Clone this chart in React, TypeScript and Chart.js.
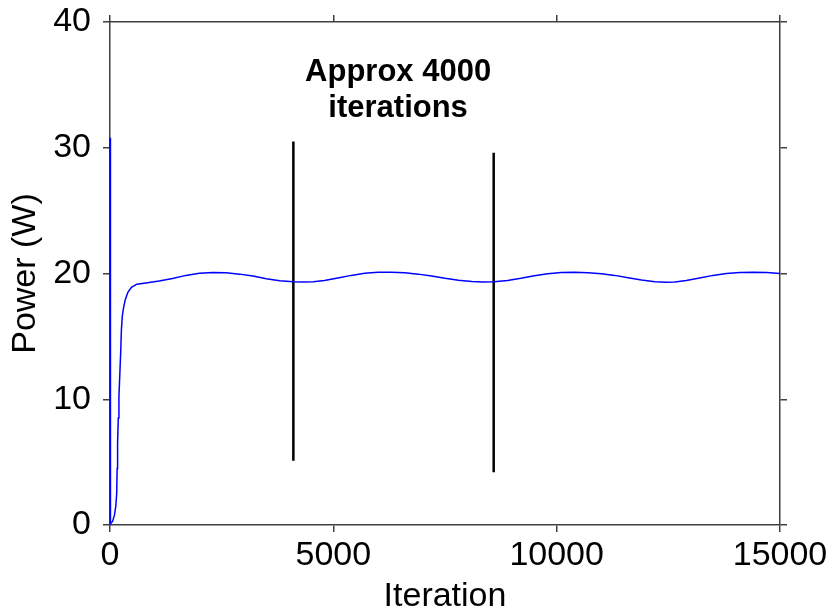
import React, { useEffect, useRef } from "react";
import { Chart, registerables } from "chart.js";

Chart.register(...registerables);

// Power trace (iteration, watts)
const iterations: number[] = [
  0, 10, 60, 100, 130, 150, 160, 170, 185, 200, 220, 240, 255, 275, 300, 340, 400, 480, 600, 800,
  1100, 1400, 1700, 2000, 2300, 2600, 2900, 3200, 3500, 3800, 4100, 4300, 4550, 4800, 5100, 5400,
  5700, 6000, 6300, 6600, 6900, 7200, 7500, 7800, 8100, 8350, 8600, 8900, 9200, 9500, 9800, 10100,
  10400, 10700, 11000, 11300, 11600, 11900, 12200, 12450, 12650, 12900, 13200, 13500, 13800, 14100,
  14400, 14700, 15000,
];
const power: number[] = [
  30.8, 0.1, 0.3, 0.8, 1.5, 2.5, 4.5, 6.5, 8.5, 10.2, 12.0, 13.8, 15.5, 16.6, 17.2, 17.9, 18.5, 18.9,
  19.15, 19.25, 19.4, 19.6, 19.85, 20.02, 20.08, 20.05, 19.95, 19.8, 19.58, 19.42, 19.34, 19.32, 19.34,
  19.45, 19.65, 19.85, 20.02, 20.09, 20.1, 20.05, 19.95, 19.8, 19.62, 19.47, 19.37, 19.33, 19.34,
  19.45, 19.62, 19.82, 19.98, 20.07, 20.09, 20.06, 19.98, 19.85, 19.66, 19.48, 19.35, 19.3, 19.32,
  19.45, 19.65, 19.85, 20.0, 20.07, 20.09, 20.07, 20.0,
];

// Marker lines (iteration, top, bottom)
const markerX: number[] = [4105, 8590];
const markerTop: number[] = [30.5, 29.6];
const markerBottom: number[] = [5.1, 4.2];

// Annotation
const annotationLines: string[] = ["Approx 4000", "iterations"];
const annotationX = 6450;
const annotationY: number[] = [35.3, 32.45];

const xTicks: number[] = [0, 5000, 10000, 15000];
const yTicks: number[] = [0, 10, 20, 30, 40];

const FONT = "'Liberation Sans', Arial, Helvetica, sans-serif";
const AXIS_COLOR = "#404040";

export default function App() {
  const ref = useRef<HTMLCanvasElement | null>(null);

  useEffect(() => {
    if (!ref.current) return;
    const gridOpts = {
      display: true,
      drawOnChartArea: false,
      drawTicks: true,
      tickLength: 7,
      color: AXIS_COLOR,
      lineWidth: 1.5,
    };
    const borderOpts = { display: true, color: AXIS_COLOR, width: 1.5 };

    const markerSets = markerX.map((mx, i) => ({
      data: [
        { x: mx, y: markerTop[i] },
        { x: mx, y: markerBottom[i] },
      ],
      borderColor: "#000000",
      borderWidth: 2.5,
      pointRadius: 0,
      fill: false,
      tension: 0,
    }));

    const annotationPlugin = {
      id: "annot",
      afterDatasetsDraw(chart: any) {
        const ctx = chart.ctx;
        const xs = chart.scales.x;
        const ys = chart.scales.y;
        ctx.save();
        ctx.fillStyle = "#000";
        ctx.font = `bold 31px ${FONT}`;
        ctx.textAlign = "center";
        ctx.textBaseline = "alphabetic";
        annotationLines.forEach((t, i) => {
          ctx.fillText(t, xs.getPixelForValue(annotationX), ys.getPixelForValue(annotationY[i]));
        });
        ctx.restore();
      },
    };

    const fitH = (h: number) => (s: any) => {
      s.height = h;
      s.paddingLeft = 0;
      s.paddingRight = 0;
      s.paddingTop = 0;
      s.paddingBottom = 0;
    };
    const fitW = (w: number) => (s: any) => {
      s.width = w;
      s.paddingLeft = 0;
      s.paddingRight = 0;
      s.paddingTop = 0;
      s.paddingBottom = 0;
    };

    const chart = new Chart(ref.current, {
      type: "line",
      data: {
        datasets: [
          {
            data: iterations.map((x, i) => ({ x, y: power[i] })),
            borderColor: "#0000ff",
            borderWidth: 1.5,
            pointRadius: 0,
            fill: false,
            tension: 0,
            clip: false as any,
          },
          ...markerSets,
        ],
      },
      options: {
        animation: false,
        responsive: false,
        layout: { padding: 0 },
        plugins: { legend: { display: false }, tooltip: { enabled: false } },
        scales: {
          x: {
            type: "linear",
            position: "bottom",
            min: 0,
            max: 15000,
            afterBuildTicks: (s: any) => {
              s.ticks = xTicks.map((v) => ({ value: v }));
            },
            ticks: {
              color: "#000",
              font: { family: FONT, size: 34, lineHeight: 1 },
              padding: 7,
              maxRotation: 0,
              callback: (v: any) => String(v),
            },
            grid: gridOpts,
            border: borderOpts,
            title: {
              display: true,
              text: "Iteration",
              color: "#000",
              font: { family: FONT, size: 34, lineHeight: 1 },
              padding: { top: 0, bottom: -3 },
            },
            afterFit: fitH(86),
          },
          x2: {
            type: "linear",
            position: "top",
            min: 0,
            max: 15000,
            afterBuildTicks: (s: any) => {
              s.ticks = xTicks.map((v) => ({ value: v }));
            },
            ticks: { display: false },
            grid: gridOpts,
            border: borderOpts,
            afterFit: fitH(22),
          },
          y: {
            type: "linear",
            position: "left",
            min: 0,
            max: 40,
            afterBuildTicks: (s: any) => {
              s.ticks = yTicks.map((v) => ({ value: v }));
            },
            ticks: {
              color: "#000",
              font: { family: FONT, size: 34 },
              padding: 12,
              callback: (v: any) => String(v),
            },
            grid: gridOpts,
            border: borderOpts,
            title: {
              display: true,
              text: "Power (W)",
              color: "#000",
              font: { family: FONT, size: 34, lineHeight: 1 },
              padding: { top: 9, bottom: 0 },
            },
            afterFit: fitW(110),
          },
          y2: {
            type: "linear",
            position: "right",
            min: 0,
            max: 40,
            afterBuildTicks: (s: any) => {
              s.ticks = yTicks.map((v) => ({ value: v }));
            },
            ticks: { display: false },
            grid: gridOpts,
            border: borderOpts,
            afterFit: fitW(53),
          },
        },
      },
      plugins: [annotationPlugin],
    } as any);

    return () => chart.destroy();
  }, []);

  return (
    <div style={{ position: "absolute", left: 0, top: 0, width: 833, height: 611, background: "#fff" }}>
      <canvas ref={ref} width={833} height={611} style={{ display: "block" }} />
    </div>
  );
}
